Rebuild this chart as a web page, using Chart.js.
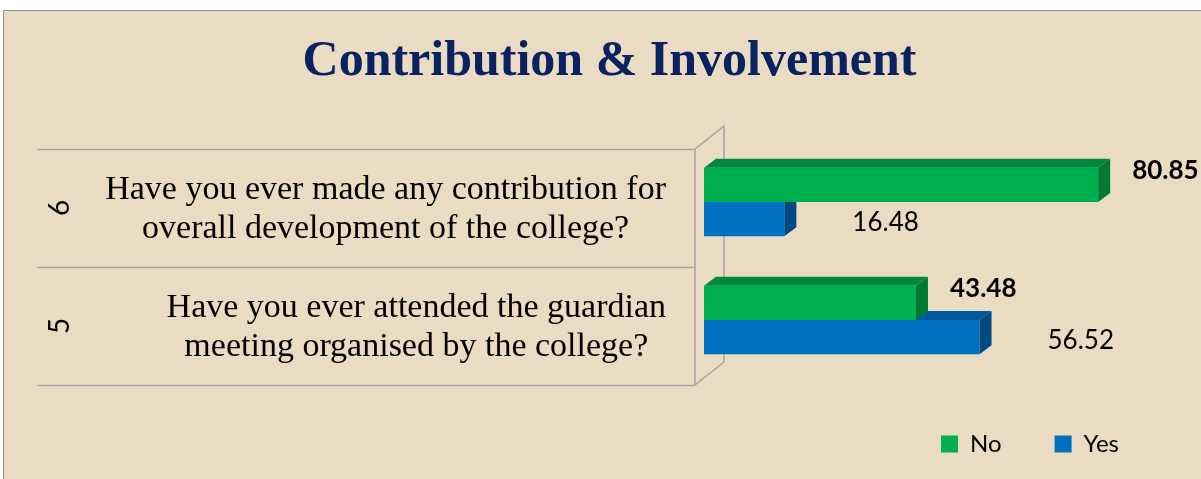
<!DOCTYPE html>
<html><head><meta charset="utf-8">
<script src="https://cdn.jsdelivr.net/npm/chart.js@4.4.1/dist/chart.umd.min.js"></script>
<style>
html,body{margin:0;padding:0;background:#fff;width:1201px;height:479px;overflow:hidden}
#frame{position:absolute;left:3px;top:10px;width:1300px;height:600px;background:#EADCC2;border:1px solid #8F8F8F;box-sizing:border-box}
#wrap{position:absolute;left:0;top:0;width:1201px;height:479px}
</style></head><body>
<div id="frame"></div>
<div id="wrap"><canvas id="c" width="1201" height="479"></canvas></div>
<script>
const categories = ['6', '5'];
const questions = [
  ['Have you ever made any contribution for', 'overall development of the college?'],
  ['Have you ever attended the guardian', 'meeting organised by the college?']
];
const seriesNames = ['No', 'Yes'];
const noValues = [80.85, 43.48];
const yesValues = [16.48, 56.52];
const chartTitle = 'Contribution & Involvement';

const FACE = {
  No:  {front: '#00B050', top: '#00883D', side: '#007A33'},
  Yes: {front: '#0070C0', top: '#00579A', side: '#004A82'}
};
const DX = 12, DY = 9;

const threeD = {
  id: 'threeD',
  afterDatasetDraw(chart, args) {
    const ds = chart.data.datasets[args.index];
    const c = FACE[ds.label];
    const ctx = chart.ctx;
    args.meta.data.forEach(bar => {
      const {x, y, base, height} = bar.getProps(['x', 'y', 'base', 'height'], true);
      const t = y - height / 2, b = y + height / 2;
      ctx.save();
      ctx.fillStyle = c.top;
      ctx.beginPath();
      ctx.moveTo(base, t); ctx.lineTo(x, t); ctx.lineTo(x + DX, t - DY); ctx.lineTo(base + DX, t - DY);
      ctx.closePath(); ctx.fill();
      ctx.fillStyle = c.side;
      ctx.beginPath();
      ctx.moveTo(x, t); ctx.lineTo(x + DX, t - DY); ctx.lineTo(x + DX, b - DY); ctx.lineTo(x, b);
      ctx.closePath(); ctx.fill();
      ctx.restore();
    });
  }
};

const decor = {
  id: 'decor',
  beforeDatasetsDraw(chart) {
    const ctx = chart.ctx;
    const ys = chart.scales.y;
    const ca = chart.chartArea;
    ctx.save();
    // wall
    ctx.strokeStyle = '#A3A3A3';
    ctx.lineWidth = 1.5;
    const fx = ca.left - 9, bx = ca.left + 20;
    const ft = ca.top + 6, fb = ca.bottom + 6;
    ctx.beginPath();
    ctx.moveTo(fx, ft); ctx.lineTo(fx, fb);
    ctx.moveTo(fx, ft); ctx.lineTo(bx, ft - 23);
    ctx.lineTo(bx, fb - 23); ctx.lineTo(fx, fb);
    ctx.stroke();
    // category separators
    ctx.beginPath();
    for (let i = 0; i <= categories.length; i++) {
      const yy = Math.round(ys.getPixelForValue(i - 0.5)) + 6.5;
      ctx.moveTo(37, yy); ctx.lineTo(fx, yy);
    }
    ctx.stroke();
    // labels
    categories.forEach((cat, i) => {
      const yc = ys.getPixelForValue(i) + 6;
      ctx.save();
      ctx.translate(60, yc);
      ctx.rotate(-Math.PI / 2);
      ctx.font = '28px Lato';
      ctx.fillStyle = '#000';
      ctx.textAlign = 'center';
      ctx.textBaseline = 'middle';
      ctx.fillText(cat, 0, 0);
      ctx.restore();
      ctx.font = '34px "Liberation Serif"';
      ctx.fillStyle = '#000';
      ctx.textAlign = 'center';
      ctx.textBaseline = 'middle';
      const lines = questions[i];
      const w = Math.max(...lines.map(l => ctx.measureText(l).width));
      const cx = 666 - w / 2;
      const lh = 39;
      lines.forEach((l, k) => {
        ctx.fillText(l, cx, yc + 2 + (k - (lines.length - 1) / 2) * lh);
      });
    });
    ctx.restore();
  },
  afterDatasetsDraw(chart) {
    const ctx = chart.ctx;
    ctx.save();
    ctx.fillStyle = '#000';
    ctx.textAlign = 'left';
    ctx.textBaseline = 'middle';
    chart.data.datasets.forEach((ds, di) => {
      const meta = chart.getDatasetMeta(di);
      meta.data.forEach((bar, i) => {
        const {x, y} = bar.getProps(['x', 'y'], true);
        const v = ds.data[i].toFixed(2);
        if (ds.label === 'No') {
          ctx.font = 'bold 26px Lato';
          ctx.fillText(v, x + 34, y - 14);
        } else {
          ctx.font = '26px Lato';
          ctx.fillText(v, x + 68, y + 3);
        }
      });
    });
    ctx.restore();
  }
};

new Chart(document.getElementById('c'), {
  type: 'bar',
  data: {
    labels: categories,
    datasets: [
      {label: seriesNames[0], data: noValues, backgroundColor: FACE.No.front, borderWidth: 0},
      {label: seriesNames[1], data: yesValues, backgroundColor: FACE.Yes.front, borderWidth: 0}
    ]
  },
  options: {
    indexAxis: 'y',
    responsive: false,
    animation: false,
    events: [],
    layout: {padding: {left: 47, right: 29, top: 0, bottom: 13}},
    datasets: {bar: {categoryPercentage: 0.58, barPercentage: 1.0}},
    scales: {
      x: {display: false, min: 0, max: 96},
      y: {
        ticks: {display: false},
        grid: {display: false},
        border: {display: false},
        afterFit(scale) { scale.width = 657; }
      }
    },
    plugins: {
      title: {
        display: true,
        text: chartTitle,
        color: '#0A2260',
        font: {family: '"Liberation Serif"', size: 50, weight: 'bold', lineHeight: 1.2},
        padding: {top: 32, bottom: 51}
      },
      legend: {
        position: 'bottom',
        align: 'end',
        labels: {
          boxWidth: 17, boxHeight: 17, padding: 53,
          color: '#000',
          font: {family: 'Lato', size: 24}
        }
      },
      tooltip: {enabled: false}
    }
  },
  plugins: [threeD, decor]
});
</script>
</body></html>
